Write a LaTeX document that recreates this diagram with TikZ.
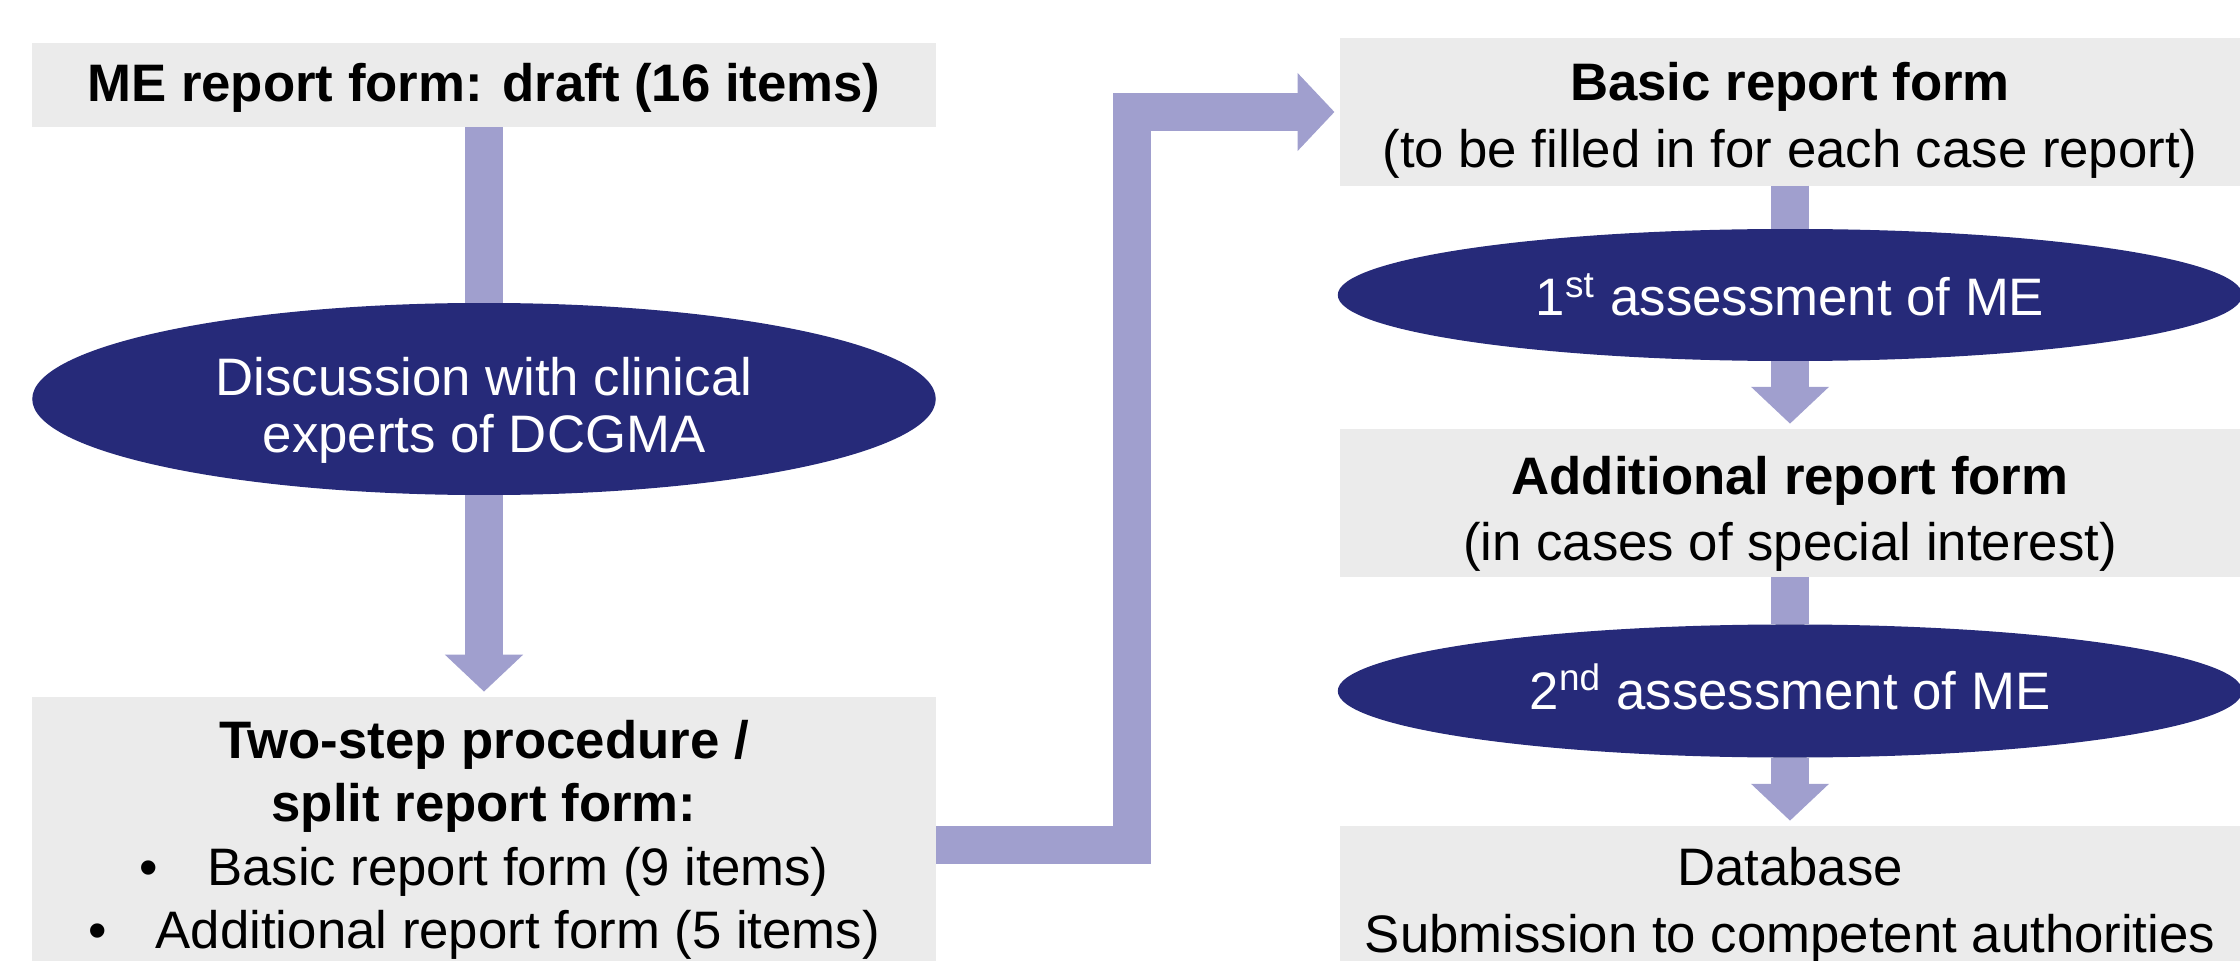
\documentclass[tikz,border=0pt]{standalone}
\usepackage{fontspec}
\setmainfont{Liberation Sans}
\usetikzlibrary{arrows.meta,positioning,shapes.geometric}

\definecolor{formgrey}{RGB}{235,235,235}
\definecolor{navy}{RGB}{38,42,121}
\definecolor{lavender}{RGB}{160,159,206}

\tikzset{
  form/.style={rectangle,fill=formgrey,inner sep=0pt,outer sep=0pt},
  talk/.style={ellipse,fill=navy,inner sep=0pt,outer sep=0pt},
  formtext/.style={align=center,inner sep=0pt,font=\fontsize{15}{19}\selectfont},
  talktext/.style={align=center,inner sep=0pt,text=white,font=\fontsize{15}{16.2}\selectfont},
  shaft/.style={draw=lavender,line width=10.8pt,line join=miter},
  flow/.style={shaft,-{Triangle[width=21.6pt,length=10.5pt]},shorten >=1.5pt},
}

\begin{document}
\begin{tikzpicture}[x=0.01cm,y=-0.01cm]
\useasboundingbox (0,0) rectangle (2240,961);

% left column
\node[form,minimum width=9.04cm,minimum height=0.84cm] (draft) at (484,85) {};
\node[formtext] (drafttext) at ([yshift=-0.8pt]draft.center)
  {\bfseries ME report form: draft (16 items)};
\node[talk,minimum width=9.03cm,minimum height=1.92cm] (discuss) at (484,399) {};
\node[talktext] (discusstext) at ([yshift=-3.1pt]discuss.center)
  {Discussion with clinical\\experts of DCGMA};
\node[form,minimum width=9.04cm,minimum height=2.74cm] (twostep) at (484,834) {};
\node[formtext,font=\fontsize{15}{18}\selectfont] (twosteptext) at ([yshift=-1.7pt]twostep.center)
  {\bfseries Two-step procedure /\\
   \bfseries split report form:\\
   \textbullet\hspace{14pt}Basic report form (9 items)\\
   \textbullet\hspace{14pt}Additional report form (5 items)};

% right column
\node[form,minimum width=9cm,minimum height=1.47cm] (basic) at (1790,112) {};
\node[formtext] (basictext) at ([yshift=-2.3pt]basic.center)
  {\bfseries Basic report form\\(to be filled in for each case report)};
\node[talk,minimum width=9.04cm,minimum height=1.32cm] (assess1) at (1790,295) {};
\node[talktext] (assess1text) at (assess1.center)
  {1\textsuperscript{st} assessment of ME};
\node[form,minimum width=9cm,minimum height=1.48cm] (additional) at (1790,503) {};
\node[formtext] (additionaltext) at ([yshift=-3.1pt]additional.center)
  {\bfseries Additional report form\\(in cases of special interest)};
\node[talk,minimum width=9.04cm,minimum height=1.33cm] (assess2) at (1790,691) {};
\node[talktext] (assess2text) at ([yshift=1.2pt]assess2.center)
  {2\textsuperscript{nd} assessment of ME};
\node[form,minimum width=9cm,minimum height=1.44cm] (database) at (1790,898) {};
\node[formtext] (databasetext) at ([yshift=-2pt]database.center)
  {Database\\Submission to competent authorities};

% connectors
\draw[shaft] (draft) -- (discuss);
\draw[flow] (discuss) -- (twostep);
\coordinate (bend) at (1132,845);
\draw[flow] (twostep.east |- bend) -- (bend) |- (basic.west);
\draw[shaft] (basic) -- (assess1);
\draw[flow] (assess1) -- (additional);
\draw[shaft] (additional) -- (assess2);
\draw[flow] (assess2) -- (database);
\end{tikzpicture}
\end{document}
